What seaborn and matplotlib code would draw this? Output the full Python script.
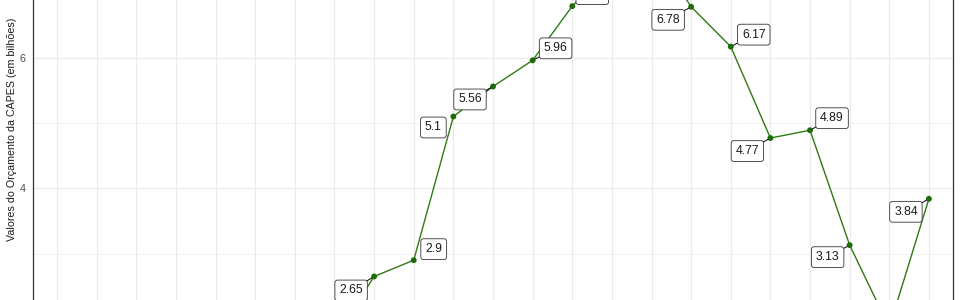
import numpy as np
import pandas as pd
import matplotlib
matplotlib.use("Agg")
import matplotlib.pyplot as plt
import seaborn as sns

# ---- data (None = outside the visible window) ----
years = list(range(2000, 2023))
values = [None, None, None, None, None, None, None,
          1.70, 2.65, 2.90, 5.10, 5.56, 5.96, 6.79, 7.40, 7.72,
          6.78, 6.17, 4.77, 4.89, 3.13, 1.87, 3.84]
y_ticks = [2, 4, 6, 8]
y_minor = [3, 5, 7]
y_title = "Valores do Orçamento da CAPES (em bilhões)"

# label offsets (pixels) relative to their point – layout only
label_offsets = {
    2008: (-23, -14), 2009: (20, 11), 2010: (-20, -11), 2011: (-23, -13),
    2012: (23, 12), 2013: (20, 12), 2014: (22, 12), 2015: (22, 12),
    2016: (-23, -13), 2017: (23, 12), 2018: (-23, -13), 2019: (22, 12),
    2020: (-22, -12), 2021: (-22, -12), 2022: (-23, -13), 2007: (-22, -12),
}

df = pd.DataFrame({"ano": years, "valor": values}).astype({"valor": float})

sns.set_theme(style="white")
plt.rcParams["font.family"] = ["Liberation Sans", "DejaVu Sans"]

fig = plt.figure(figsize=(9.6, 3.0), dpi=100)
W, H = 960, 300
left_px, right_px = 33.3, 952.7
ax = fig.add_axes([left_px / W, 0, (right_px - left_px) / W, 1])

line_col = "#2f7a14"
pt_col = "#1f6a0a"
sns.lineplot(data=df, x="ano", y="valor", ax=ax, color=line_col, lw=1.0,
             zorder=3, legend=False)
sns.scatterplot(data=df, x="ano", y="valor", ax=ax, color=pt_col, s=18,
                edgecolor="none", zorder=4, legend=False)

ax.set_xticks(years)
ax.set_xticklabels([])
ax.tick_params(axis="x", length=0)
ax.set_yticks(y_ticks)
ax.set_yticklabels([str(t) for t in y_ticks])
ax.set_yticks(y_minor, minor=True)
ax.tick_params(axis="y", which="major", length=3, width=0.8, color="#333333",
               labelsize=7.8, labelcolor="#4d4d4d", pad=2.5)
ax.tick_params(axis="y", which="minor", length=0)
ax.set_xlim(years[0] - 0.6, years[-1] + 0.6)
ax.set_ylim(2.29, 6.884)
ax.grid(True, which="major", axis="both", color="#ebebeb", lw=0.9, zorder=0)
ax.grid(True, which="minor", axis="y", color="#ebebeb", lw=0.5, zorder=0)
ax.set_axisbelow(True)
for s in ["top", "bottom"]:
    ax.spines[s].set_visible(False)
for s in ["left", "right"]:
    ax.spines[s].set_color("#333333")
    ax.spines[s].set_linewidth(0.9)
ax.set_xlabel("")
ax.set_ylabel("")

fig.text(12 / W, 1 - 129 / H, y_title, rotation=90, ha="center", va="center",
         fontsize=7.7, color="#1a1a1a")

for yr, v in zip(years, values):
    if v is None:
        continue
    dx, dy = label_offsets.get(yr, (20, 12))
    dist = np.hypot(dx, dy)
    arrow = dict(arrowstyle="-", color="black", lw=0.7, shrinkA=0, shrinkB=2) if dist > 24 else None
    ax.annotate(f"{round(v, 2):g}", xy=(yr, v), xytext=(dx, dy),
                textcoords="offset pixels", ha="center", va="center",
                fontsize=8.8, color="#1a1a1a", zorder=5,
                bbox=dict(boxstyle="round,pad=0.36,rounding_size=0.22",
                          fc="white", ec="#333333", lw=0.6),
                arrowprops=arrow)

fig.savefig("out.png", dpi=100)
